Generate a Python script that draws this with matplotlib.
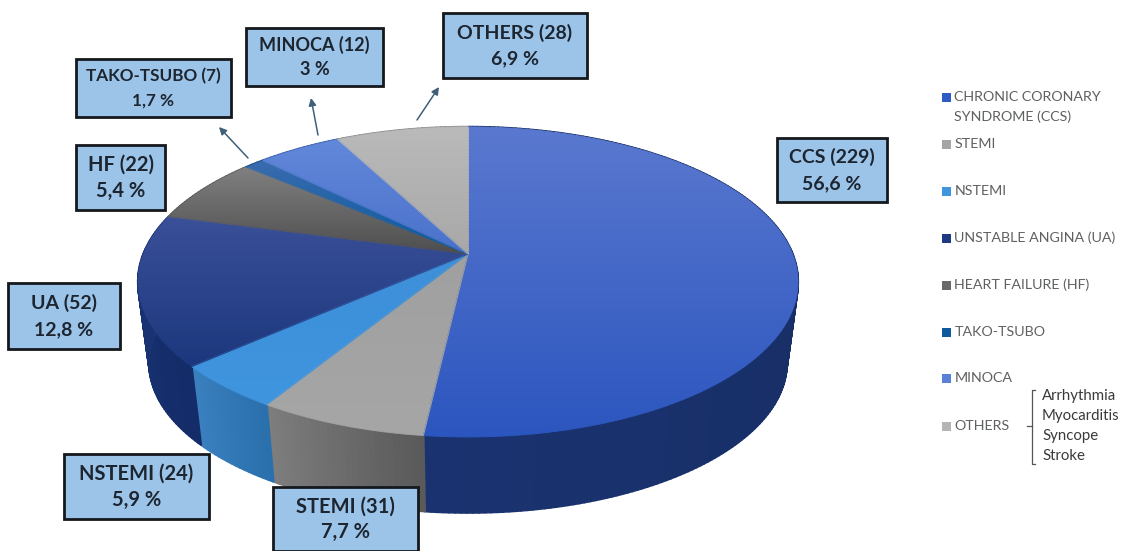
import numpy as np
import matplotlib
matplotlib.use('Agg')
import matplotlib.pyplot as plt
from matplotlib.colors import to_rgb
from matplotlib.collections import LineCollection, PolyCollection
from matplotlib.patches import Polygon, Rectangle

plt.rcParams['font.family'] = ['Lato', 'DejaVu Sans']

# slice shares as drawn in the picture (they are not quite the printed percents)
names = ['CCS', 'STEMI', 'NSTEMI', 'UA', 'HF', 'TAKO-TSUBO', 'MINOCA', 'OTHERS']
counts = [229, 31, 24, 52, 22, 7, 12, 28]
percents = ['56,6 %', '7,7 %', '5,9 %', '12,8 %', '5,4 %', '1,7 %', '3 %', '6,9 %']
drawn_shares = [51.8, 7.0, 4.7, 15.7, 7.0, 1.2, 4.9, 7.7]

legend_labels = ['CHRONIC CORONARY\nSYNDROME (CCS)', 'STEMI', 'NSTEMI', 'UNSTABLE ANGINA (UA)',
                 'HEART FAILURE (HF)', 'TAKO-TSUBO', 'MINOCA', 'OTHERS']
others_list = ['Arrhythmia', 'Myocarditis', 'Syncope', 'Stroke']

# colours: top face (upper, lower), side face (left, right), legend
top_hi = ['#5a78cf', '#a0a0a0', '#3d8fd8', '#3a5098', '#808080', '#3a6cae', '#6288da', '#bababa']
top_lo = ['#2c56bf', '#a6a6a6', '#3f95de', '#1c377d', '#4e4e4e', '#0a5aa2', '#4a72ca', '#a8a8a8']
side_l = ['#1a3370', '#7d7d7d', '#3a80bf', '#1a3578', '#555555', '#0a4a85', '#3a5ca8', '#888888']
side_r = ['#14285a', '#5a5a5a', '#2a70ad', '#142c68', '#555555', '#0a4a85', '#3a5ca8', '#888888']
legend_cols = ['#2f5cc4', '#a5a5a5', '#3f95de', '#1e3a80', '#6a6a6a', '#0f5a9c', '#5a80d8', '#b5b5b5']

# layout in pixels
box_rects = [(777, 138, 887, 202), (273, 487, 418, 551), (64, 454, 209, 519), (8, 283, 120, 349),
             (76, 145, 165, 210), (76, 59, 231, 117), (246, 28, 383, 86), (443, 13, 587, 78)]
box_sizes = [14, 14.5, 14.5, 14, 14.5, 12.3, 13, 14]
arrows = [((248, 158), (219, 127)), ((318, 135), (311, 98)), ((417, 120), (439, 87))]
legend_y = [97, 144, 191, 238, 285, 332, 378, 426]
others_y = [396, 416, 436, 456]

cx, cy = 468, 254
k = 0.18
a, b = 324.6, 150


def rim(theta, scale=1.0, dy=0):
    # perspective view of a circle, theta clockwise from the top
    x = np.sin(theta)
    y = -np.cos(theta)
    w = 1 - k * y
    return cx + scale * a * x / w, cy + dy + scale * b * y / w


def blend(c1, c2, t):
    t = np.asarray(t)[..., None]
    return (1 - t) * np.array(to_rgb(c1)) + t * np.array(to_rgb(c2))


def top_face(ax, xs, ys, c1, c2, z=2):
    # vertical gradient clipped to the slice, edge coloured to hide the jagged clip
    poly = Polygon(np.column_stack([xs, ys]), closed=True, facecolor='none', edgecolor='none', zorder=z)
    ax.add_patch(poly)
    grad = blend(c1, c2, np.linspace(0, 1, 128))[:, None, :]
    im = ax.imshow(grad, extent=[xs.min(), xs.max(), ys.max(), ys.min()], aspect='auto',
                   interpolation='bilinear', zorder=z)
    im.set_clip_path(poly)
    px = np.append(xs, xs[0])
    py = np.append(ys, ys[0])
    segs = np.stack([np.column_stack([px[:-1], py[:-1]]), np.column_stack([px[1:], py[1:]])], axis=1)
    t = ((py[:-1] + py[1:]) / 2 - ys.min()) / (ys.max() - ys.min())
    ax.add_collection(LineCollection(segs, colors=blend(c1, c2, t), linewidths=0.7, zorder=z + 0.1))


fig = plt.figure(figsize=(11.21, 5.51), dpi=100)
ax = fig.add_axes([0, 0, 1, 1])

edges = np.concatenate([[0], np.cumsum(drawn_shares)]) / np.sum(drawn_shares) * 2 * np.pi

# sides first, as small quads; the top faces then hide whatever is at the back
for i in range(len(names)):
    n = max(4, int(drawn_shares[i] * 4))
    th = np.linspace(edges[i], edges[i + 1], n)
    x1, y1 = rim(th)
    x2, y2 = rim(th, 0.966, 82)
    quads = [[(x1[j], y1[j]), (x1[j + 1], y1[j + 1]), (x2[j + 1], y2[j + 1]), (x2[j], y2[j])]
             for j in range(len(th) - 1)]
    t = np.linspace(1, 0, len(quads))
    cols = blend(side_l[i], side_r[i], t)
    ax.add_collection(PolyCollection(quads, facecolors=cols, edgecolors=cols, linewidths=1.6,
                                     joinstyle='round', zorder=1))

for i in range(len(names)):
    th = np.linspace(edges[i], edges[i + 1], 200)
    x1, y1 = rim(th)
    # radial edges need points along them too, for the coloured outline
    r1 = np.linspace(0, 1, 40)
    xs = np.concatenate([cx + (x1[0] - cx) * r1, x1, cx + (x1[-1] - cx) * r1[::-1]])
    ys = np.concatenate([cy + (y1[0] - cy) * r1, y1, cy + (y1[-1] - cy) * r1[::-1]])
    top_face(ax, xs, ys, top_hi[i], top_lo[i])

# label boxes
for i in range(len(names)):
    x0, y0, x1, y1 = box_rects[i]
    ax.add_patch(Rectangle((x0, y0), x1 - x0, y1 - y0, facecolor='#9cc3e8', edgecolor='#15181c',
                           linewidth=2.0, zorder=5))
    xm = (x0 + x1) / 2
    ax.text(xm, y0 + (y1 - y0) * 0.30, '%s (%d)' % (names[i], counts[i]), ha='center', va='center',
            fontsize=box_sizes[i], fontweight='bold', color='#1c2530', zorder=6)
    ax.text(xm, y0 + (y1 - y0) * 0.71, percents[i], ha='center', va='center',
            fontsize=box_sizes[i], fontweight='bold', color='#1c2530', zorder=6)

for start, end in arrows:
    ax.annotate('', xy=end, xytext=start, zorder=4,
                arrowprops=dict(arrowstyle='-|>', color='#3f6078', lw=1.1, mutation_scale=11,
                                shrinkA=0, shrinkB=0))

# legend
for i, lab in enumerate(legend_labels):
    ax.add_patch(Rectangle((942, legend_y[i] - 4.5), 9, 9, facecolor=legend_cols[i], edgecolor='none', zorder=3))
    lines = lab.split('\n')
    for j, line in enumerate(lines):
        ax.text(954.5, legend_y[i] + j * 20, line, ha='left', va='center', fontsize=10.3, color='#5f6060')

for name, y in zip(others_list, others_y):
    ax.text(1042, y, name, ha='left', va='center', fontsize=10.8, color='#3a3a3a')

ax.plot([1035, 1032, 1032, 1035], [390, 390, 464, 464], color='#555555', lw=0.9)
ax.plot([1027, 1032], [426, 426], color='#555555', lw=0.9)

ax.set_xlim(0, 1121)
ax.set_ylim(551, 0)
ax.axis('off')

plt.savefig('out.png', dpi=100)
